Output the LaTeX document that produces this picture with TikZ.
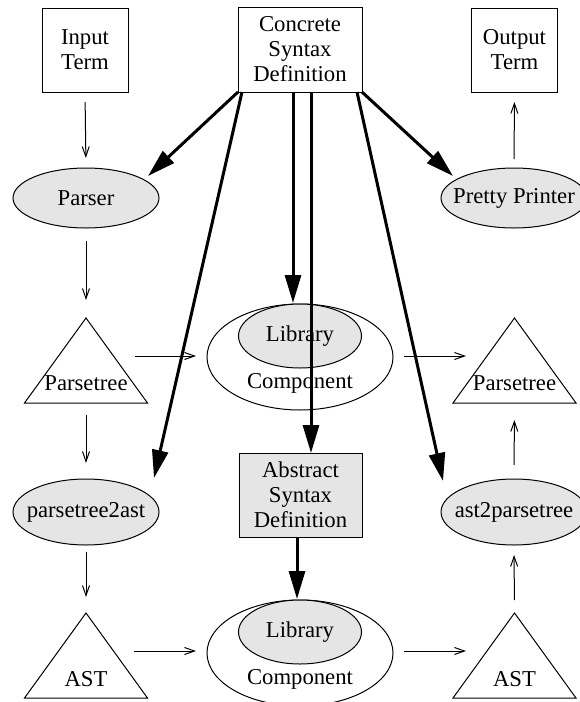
\documentclass[tikz,border=0pt]{standalone}
\usepackage{fontspec}
\setmainfont{Liberation Serif}
\usetikzlibrary{arrows.meta,shapes.geometric,calc}
\begin{document}
\begin{tikzpicture}[x=0.5pt,y=-0.5pt,
  every node/.style={font=\fontsize{11.35pt}{12.5pt}\selectfont, inner sep=0pt, outer sep=0pt},
  termbox/.style={draw, line width=0.5pt, rectangle, align=center, minimum width=43pt, minimum height=42pt},
  defbox/.style={termbox, minimum width=62pt, minimum height=42.5pt},
  proc/.style={draw, line width=0.5pt, ellipse, fill=black!10, minimum width=73pt, minimum height=30pt},
  lowproc/.style={proc, minimum height=33pt},
  libcore/.style={draw, ellipse, line width=0.5pt, fill=black!10, minimum width=61.5pt, minimum height=32pt},
  libshell/.style={draw, ellipse, line width=0.5pt, minimum width=93pt, minimum height=53pt},
  flow/.style={-{Straight Barb[length=5pt,width=3.5pt]}, line width=0.5pt},
  gen/.style={-{Triangle[length=14pt,width=8pt]}, line width=1.5pt},
  tree/.style={draw, line width=0.5pt, line join=miter}]

\useasboundingbox (0,0) rectangle (579,702);

% --- terms and syntax definitions
\node[termbox] (in)  at (85,50)    {Input\\Term};
\node[defbox]  (cs)  at (300,49.5) {Concrete\\Syntax\\Definition};
\node[termbox] (out) at (514.5,50) {Output\\Term};
\node[defbox, fill=black!10, minimum width=61.5pt, minimum height=42pt] (abs) at (300.5,495) {Abstract\\Syntax\\Definition};

% --- tools
\node[proc]    (parser) at (86,198)  {\makebox[0pt]{Parser}};
\node[proc]    (pretty) at (514,198) {\makebox[0pt]{Pretty Printer}};
\node[lowproc] (p2a)    at (86,512)  {\makebox[0pt]{parsetree2ast}};
\node[lowproc] (a2p)    at (514,512) {\makebox[0pt]{ast2parsetree}};

% --- library components
\node[libshell] (libA)   at (300,357) {};
\node[libcore]  (libAin) at (300,336) {\makebox[0pt]{Library}};
\node (libAtxt) at (300,383) {Component};
\node[libshell] (libB)   at (300,653) {};
\node[libcore]  (libBin) at (300,632) {\makebox[0pt]{Library}};
\node (libBtxt) at (300,679) {Component};

% --- trees
\coordinate (ptL-top) at (86,318);    \coordinate (ptL-bot) at (86,403);
\coordinate (ptR-top) at (514.5,318); \coordinate (ptR-bot) at (514.5,403);
\coordinate (astL-top) at (86,613);   \coordinate (astR-top) at (514.5,613);
\coordinate (ptL-e) at (135,356);     \coordinate (ptR-w) at (466,356);
\coordinate (astL-e) at (134,651);    \coordinate (astR-w) at (466,651);
\path[tree] (ptL-top) -- ++(61.5,85) -- ++(-123,0) -- cycle;
\path[tree] (ptR-top) -- ++(61.5,85) -- ++(-123,0) -- cycle;
\path[tree] (astL-top) -- ++(61.5,85) -- ++(-123,0) -- cycle;
\path[tree] (astR-top) -- ++(61.5,85) -- ++(-123,0) -- cycle;
\node (ptL)  at (86,383)    {Parsetree};
\node (ptR)  at (514.5,383) {Parsetree};
\node (astL) at (86,679)    {AST};
\node (astR) at (514.5,679) {AST};

% --- data flow
\draw[flow, shorten <=5pt,   shorten >=5pt]   (in.south) -- (parser.north);
\draw[flow, shorten <=6.5pt, shorten >=9pt]   (parser.south) -- (ptL-top);
\draw[flow, shorten <=6pt,   shorten >=8pt]   (ptL-bot) -- (p2a.north);
\draw[flow, shorten <=3.5pt, shorten >=8pt]   (p2a.south) -- (astL-top);
\draw[flow, shorten <=6.5pt, shorten >=5pt]   (astR-top) -- (a2p.south);
\draw[flow, shorten <=7pt,   shorten >=8.5pt] (a2p.north) -- (ptR-bot);
\draw[flow, shorten <=4.5pt, shorten >=5pt]   (pretty.north) -- (out.south);
\draw[flow, shorten >=5.5pt] (ptL-e) -- (ptL-e -| libA.west);
\draw[flow, shorten <=5.5pt] (libA.east |- ptR-w) -- (ptR-w);
\draw[flow, shorten >=5.5pt] (astL-e) -- (astL-e -| libB.west);
\draw[flow, shorten <=5.5pt] (libB.east |- astR-w) -- (astR-w);

% --- generation from the syntax definitions
\draw[gen] (cs.south west) -- ($(parser)+(62,-22)$);
\draw[gen] ($(cs.south west)+(4,0)$) -- ($(p2a)+(68,-34)$);
\draw[gen] ($(cs.south)+(-7,0)$) -- ($(libAin.north)+(-7,-1)$);
\draw[gen] ($(cs.south)+(11,0)$) -- ($(abs.north)+(10.5,0)$);
\draw[gen] ($(cs.south east)+(-5,0)$) -- ($(a2p)+(-71,-31)$);
\draw[gen] (cs.south east) -- ($(pretty)+(-61,-22)$);
\draw[gen] ($(abs.south)+(-3.5,0)$) -- ($(libB.north)+(-3,-1)$);
\end{tikzpicture}
\end{document}
